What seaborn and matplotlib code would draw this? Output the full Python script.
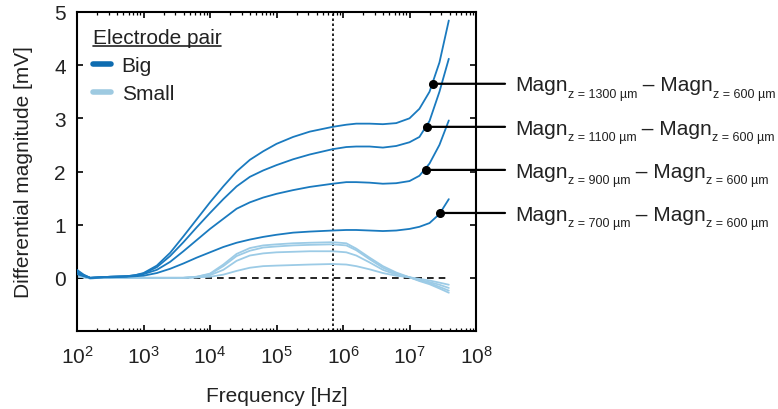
import numpy as np
import pandas as pd
import matplotlib
matplotlib.use("Agg")
import matplotlib.pyplot as plt
import seaborn as sns
from matplotlib.lines import Line2D
from matplotlib.ticker import LogLocator, NullFormatter

# ---------------- data ----------------
freq_hz = [100, 126, 158, 224, 316, 562, 750, 1000, 1585, 2512, 3981, 6310, 1e4, 15849, 25119,
           39811, 63096, 1e5, 177828, 316228, 7e5, 1.12e6, 1.58e6, 2.51e6, 3.98e6, 6.31e6,
           1e7, 1.41e7, 2e7, 2.82e7, 3.9e7]

big_1300 = [0.15, 0.06, 0.0, 0.01, 0.02, 0.03, 0.05, 0.09, 0.23, 0.47, 0.78, 1.10, 1.42, 1.72,
            2.00, 2.22, 2.38, 2.52, 2.65, 2.75, 2.84, 2.88, 2.90, 2.90, 2.89, 2.91, 3.00, 3.18,
            3.50, 4.05, 4.84]
big_1100 = [0.12, 0.05, 0.0, 0.01, 0.02, 0.03, 0.05, 0.08, 0.20, 0.41, 0.67, 0.95, 1.22, 1.48,
            1.72, 1.90, 2.02, 2.12, 2.23, 2.32, 2.42, 2.46, 2.47, 2.47, 2.45, 2.48, 2.55, 2.65,
            2.95, 3.50, 4.12]
big_900 = [0.10, 0.04, 0.0, 0.01, 0.02, 0.03, 0.04, 0.07, 0.15, 0.30, 0.50, 0.71, 0.92, 1.11,
           1.30, 1.42, 1.51, 1.58, 1.65, 1.71, 1.77, 1.80, 1.80, 1.79, 1.77, 1.78, 1.82, 1.92,
           2.15, 2.50, 2.96]
big_700 = [0.07, 0.03, 0.0, 0.01, 0.01, 0.02, 0.03, 0.04, 0.09, 0.17, 0.27, 0.38, 0.48, 0.58,
           0.66, 0.72, 0.77, 0.81, 0.85, 0.87, 0.89, 0.90, 0.90, 0.89, 0.88, 0.89, 0.92, 0.96,
           1.03, 1.20, 1.48]

small_1300 = [0.05, 0.02, -0.01, 0.0, 0.0, 0.0, 0.0, 0.0, 0.0, 0.0, 0.0, 0.02, 0.08, 0.25,
              0.45, 0.56, 0.61, 0.63, 0.65, 0.66, 0.67, 0.65, 0.55, 0.38, 0.22, 0.10, 0.01,
              -0.06, -0.12, -0.20, -0.28]
small_1100 = [0.04, 0.02, -0.01, 0.0, 0.0, 0.0, 0.0, 0.0, 0.0, 0.0, 0.0, 0.02, 0.07, 0.22,
              0.41, 0.51, 0.57, 0.59, 0.61, 0.62, 0.63, 0.61, 0.52, 0.35, 0.19, 0.08, 0.01,
              -0.05, -0.10, -0.17, -0.24]
small_900 = [0.03, 0.01, -0.01, 0.0, 0.0, 0.0, 0.0, 0.0, 0.0, 0.0, 0.0, 0.01, 0.05, 0.15,
             0.32, 0.42, 0.46, 0.48, 0.49, 0.50, 0.50, 0.48, 0.42, 0.29, 0.15, 0.06, 0.01,
             -0.04, -0.08, -0.13, -0.19]
small_700 = [0.02, 0.01, -0.01, 0.0, 0.0, 0.0, 0.0, 0.0, 0.0, 0.0, 0.0, 0.01, 0.02, 0.06,
             0.13, 0.19, 0.22, 0.23, 0.24, 0.25, 0.26, 0.25, 0.22, 0.16, 0.09, 0.04, 0.01,
             -0.02, -0.05, -0.09, -0.13]

series_z = ["1300", "1100", "900", "700"]
# annotation markers (frequency, value) on the Big curves
dot_freq = [2.24e7, 1.82e7, 1.78e7, 2.9e7]
dot_val = [3.65, 2.84, 2.03, 1.22]
vline_freq = 7e5

pair_labels = ["Big", "Small"]
big_color = "#1a7abf"
small_color = "#9ccbe6"
legend_colors = ["#0e6cb0", "#9ecae1"]

# ---------------- build long table ----------------
rows = []
for pair, arrs in (("Big", [big_1300, big_1100, big_900, big_700]),
                   ("Small", [small_1300, small_1100, small_900, small_700])):
    for z, vals in zip(series_z, arrs):
        for f, v in zip(freq_hz, vals):
            rows.append({"freq": f, "val": v, "pair": pair, "unit": pair + z})
df = pd.DataFrame(rows)

# ---------------- style ----------------
sns.set_style("ticks", {"xtick.direction": "in", "ytick.direction": "in"})
plt.rcParams["font.family"] = ["Liberation Sans", "DejaVu Sans"]
plt.rcParams["mathtext.fontset"] = "custom"
plt.rcParams["mathtext.rm"] = "Liberation Sans"
plt.rcParams["mathtext.it"] = "Liberation Sans:italic"
plt.rcParams["mathtext.bf"] = "Liberation Sans:bold"
txt_color = "#222222"

W, H = 778, 410
fig = plt.figure(figsize=(W / 100, H / 100), dpi=100)
ax = fig.add_axes([77 / W, 1 - 332 / H, (476 - 77) / W, (332 - 13) / H])

sns.lineplot(data=df[df.pair == "Small"], x="freq", y="val", units="unit", estimator=None,
             color=small_color, lw=1.3, ax=ax, legend=False, zorder=2)
sns.lineplot(data=df[df.pair == "Big"], x="freq", y="val", units="unit", estimator=None,
             color=big_color, lw=1.3, ax=ax, legend=False, zorder=3)

ax.hlines(0, freq_hz[0], freq_hz[-1], colors="black", linestyles=(0, (4, 3)), lw=1.2, zorder=1)
ax.axvline(vline_freq, color="black", ls=(0, (1.5, 1.5)), lw=1.2, zorder=1)

ax.set_xscale("log")
ax.set_xlim(1e2, 1e8)
ax.set_ylim(-1, 5)
ax.set_yticks([0, 1, 2, 3, 4, 5])
ax.set_xticks([1e2, 1e3, 1e4, 1e5, 1e6, 1e7, 1e8])
ax.xaxis.set_minor_locator(LogLocator(base=10, subs=np.arange(2, 10), numticks=100))
ax.xaxis.set_minor_formatter(NullFormatter())
ax.tick_params(which="both", direction="in", top=True, right=True, bottom=True, left=True,
               colors="black", labelcolor=txt_color, labelsize=15)
ax.tick_params(which="major", length=4.5, width=1.2)
ax.tick_params(which="minor", length=2.5, width=0.9)
ax.tick_params(axis="x", which="major", pad=10)
ax.tick_params(axis="y", pad=8)
for s in ax.spines.values():
    s.set_linewidth(1.5)
    s.set_color("black")

ax.set_xlabel("Frequency [Hz]", fontsize=15, color=txt_color, labelpad=14)
ax.set_ylabel("Differential magnitude [mV]", fontsize=15, color=txt_color, labelpad=15)

# legend
handles = [Line2D([0], [0], color=c, lw=4) for c in legend_colors]
leg = ax.legend(handles, pair_labels, loc="upper left", bbox_to_anchor=(-0.008, 1.01),
                frameon=False, fontsize=15, handlelength=0.9, handletextpad=0.5,
                labelspacing=0.45, title="Electrode pair", title_fontsize=15,
                alignment="left", labelcolor=txt_color)
leg.get_title().set_color(txt_color)

# annotation connectors and dots
for f, v in zip(dot_freq, dot_val):
    ax.annotate("", xy=(f, v), xycoords="data", xytext=(1.0727, v),
                textcoords=("axes fraction", "data"),
                arrowprops=dict(arrowstyle="-", color="black", lw=1.6, shrinkA=0, shrinkB=0))
    ax.plot([f], [v], "o", color="black", ms=5.5, clip_on=False, zorder=6)

fig.canvas.draw()
r = fig.canvas.get_renderer()

# underline legend title
tb = leg.get_title().get_window_extent(r)
fig.add_artist(Line2D([tb.x0 / W, tb.x1 / W], [(tb.y0 + 1) / H, (tb.y0 + 1) / H],
                      color=txt_color, lw=1.2))

# annotation texts
for z, v in zip(series_z, dot_val):
    ydisp = ax.transData.transform((1e3, v))[1]
    base = ydisp - 6.7
    x = 515.0
    parts = [("Magn", 15, 0.0), ("z = %s µm" % z, 9, -6.5), (" – Magn", 15, 0.0), ("z = 600 µm", 9, -6.5)]
    for s, fs, dy in parts:
        t = fig.text(x / W, (base + dy) / H, s, fontsize=fs, va="baseline", ha="left", color=txt_color)
        x += t.get_window_extent(r).width

fig.savefig("out.png", dpi=100)
